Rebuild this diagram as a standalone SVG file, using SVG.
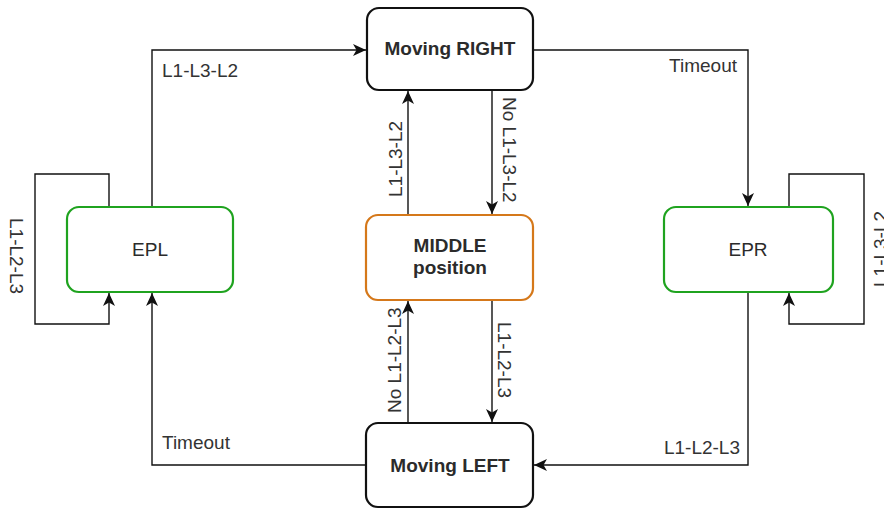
<svg xmlns="http://www.w3.org/2000/svg" width="884" height="509" viewBox="0 0 884 509">
<style>
.node{fill:#fff;stroke-width:2.2}
.blk{stroke:#111}
.grn{stroke:#1fa31f}
.org{stroke:#d5781a}
.nt{font-family:"Liberation Sans",Arial,sans-serif;font-size:19px;fill:#2b2b2b;text-anchor:middle}
.b{font-weight:bold}
.lbl{font-family:"Liberation Sans",Arial,sans-serif;font-size:19px;fill:#333}
.edge{fill:none;stroke:#111;stroke-width:1.4}
</style>
<defs>
<marker id="arr" markerUnits="userSpaceOnUse" markerWidth="14" markerHeight="12" viewBox="0 0 14 12" refX="13" refY="6" orient="auto">
<path d="M0,0 L13,6 L0,12 L3.5,6 Z" fill="#111"/>
</marker>
</defs>
<rect width="884" height="509" fill="#fff"/>
<g id="edges">
<path class="edge" d="M152,207 V50 H366" marker-end="url(#arr)"/>
<path class="edge" d="M533,50 H748 V206" marker-end="url(#arr)"/>
<path class="edge" d="M109,207 V174 H35 V324 H109 V293" marker-end="url(#arr)"/>
<path class="edge" d="M789,207 V174 H864 V324 H789 V293" marker-end="url(#arr)"/>
<path class="edge" d="M748,292 V465 H534" marker-end="url(#arr)"/>
<path class="edge" d="M366,465 H152 V293" marker-end="url(#arr)"/>
<path class="edge" d="M408,215 V91" marker-end="url(#arr)"/>
<path class="edge" d="M492,90 V214" marker-end="url(#arr)"/>
<path class="edge" d="M408,423 V301" marker-end="url(#arr)"/>
<path class="edge" d="M492,300 V422" marker-end="url(#arr)"/>
<text class="lbl" x="162" y="77">L1-L3-L2</text>
<text class="lbl" x="737" y="72" text-anchor="end">Timeout</text>
<text class="lbl" x="162" y="449">Timeout</text>
<text class="lbl" x="740" y="454" text-anchor="end">L1-L2-L3</text>
<text class="lbl" transform="translate(10,218) rotate(90)">L1-L2-L3</text>
<text class="lbl" transform="translate(887,287) rotate(-90)">L1-L3-L2</text>
<text class="lbl" transform="translate(402,197) rotate(-90)">L1-L3-L2</text>
<text class="lbl" transform="translate(503,97) rotate(90)">No L1-L3-L2</text>
<text class="lbl" transform="translate(401,413) rotate(-90)">No L1-L2-L3</text>
<text class="lbl" transform="translate(498,322) rotate(90)">L1-L2-L3</text>
</g>
<g id="moving-right">
<rect class="node blk" x="367" y="8" width="166" height="82" rx="12"/>
<text class="nt b" x="450" y="55">Moving RIGHT</text>
</g>
<g id="middle">
<rect class="node org" x="366" y="215" width="167" height="85" rx="12"/>
<text class="nt b" x="450" y="252">MIDDLE</text>
<text class="nt b" x="450" y="274">position</text>
</g>
<g id="moving-left">
<rect class="node blk" x="366" y="423" width="167" height="84" rx="12"/>
<text class="nt b" x="450" y="472">Moving LEFT</text>
</g>
<g id="epl">
<rect class="node grn" x="67" y="207" width="166" height="85" rx="12"/>
<text class="nt" x="150" y="256">EPL</text>
</g>
<g id="epr">
<rect class="node grn" x="664" y="207" width="169" height="85" rx="12"/>
<text class="nt" x="748" y="256">EPR</text>
</g>
</svg>
